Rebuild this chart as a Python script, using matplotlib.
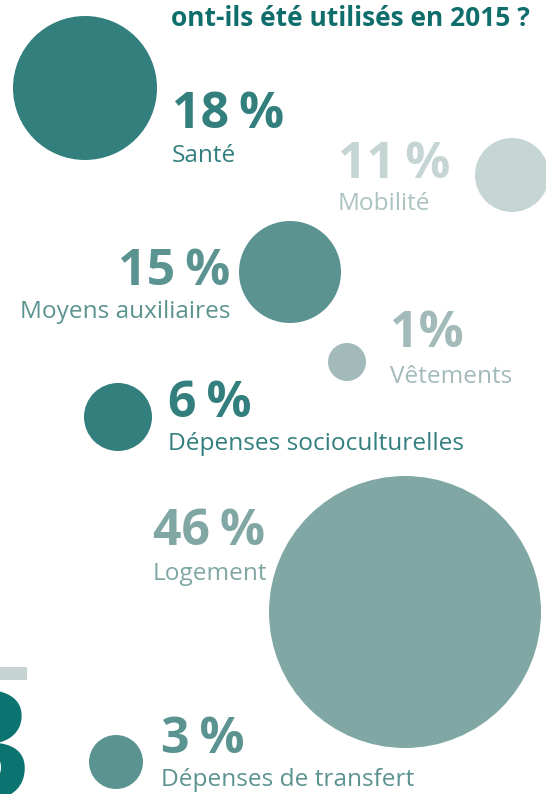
import matplotlib
matplotlib.use("Agg")
import matplotlib.pyplot as plt
from matplotlib.patches import Circle, Rectangle

# data
categories = ['Santé', 'Mobilité', 'Moyens auxiliaires', 'Vêtements',
              'Dépenses socioculturelles', 'Logement', 'Dépenses de transfert']
shares = [18, 11, 15, 1, 6, 46, 3]
title = 'ont-ils été utilisés en 2015 ?'

# layout in pixel coords (x, y from top): circle cx, cy, r, text x, align, pct baseline, label baseline
layout = [
    (85, 88, 72, 172, 'left', 128, 162),
    (512, 175, 37, 338, 'left', 178, 210),
    (290, 272, 51, 230, 'right', 285, 318),
    (347, 362, 19, 390, 'left', 347, 383),
    (118, 417, 34, 168, 'left', 417, 450),
    (405, 612, 136, 153, 'left', 545, 580),
    (116, 762, 27, 161, 'left', 753, 786),
]
circle_colors = ['#327f7d', '#c5d5d4', '#5b9390', '#a2bab9', '#327f7d', '#80a7a4', '#5b9390']
label_colors = ['#327f7d', '#abc2c1', '#5b9390', '#a2bab9', '#327f7d', '#80a7a4', '#5b9390']

W, H = 546, 794
fig = plt.figure(figsize=(W / 100, H / 100), dpi=100)
ax = fig.add_axes([0, 0, 1, 1])
ax.set_xlim(0, W)
ax.set_ylim(H, 0)
ax.set_aspect('equal')
ax.axis('off')

font = 'Open Sans'

for cat, v, (cx, cy, r, tx, ha, py, ly), cc, lc in zip(categories, shares, layout,
                                                       circle_colors, label_colors):
    ax.add_patch(Circle((cx, cy), r, color=cc, lw=0))
    sep = '' if v == 1 else '\u2009'
    ax.text(tx, py, f'{v}{sep}%', ha=ha, va='baseline', fontsize=36,
            fontweight='bold', color=cc, family=[font, 'DejaVu Sans'])
    ax.text(tx, ly, cat, ha=ha, va='baseline', fontsize=17.6, color=lc, family=font)

ax.text(530, 26, title, ha='right', va='baseline', fontsize=19, fontweight='bold',
        color='#0f6e6b', family=font)

# page decoration: grey bar and big chapter number (cut by the left edge)
ax.add_patch(Rectangle((0, 667), 27, 13, color='#c5d4d3', lw=0))
ax.text(30, 800, '3', ha='right', va='baseline', fontsize=108, fontweight='bold',
        color='#0b7370', family=font)

fig.savefig('out.png', dpi=100)
